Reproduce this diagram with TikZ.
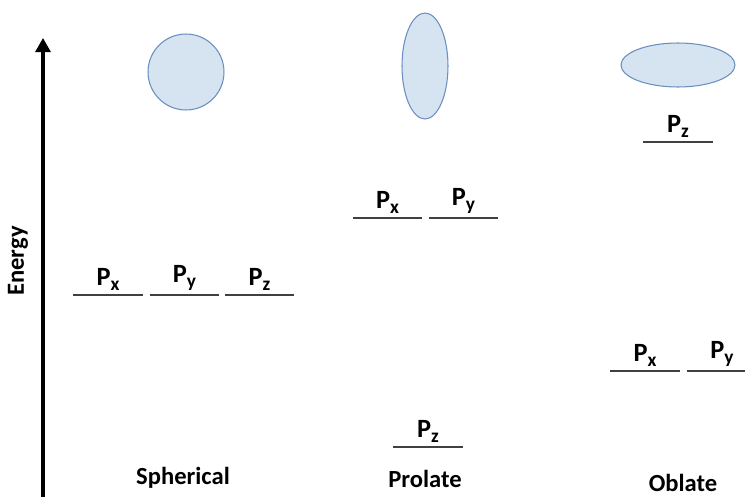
\documentclass[tikz,border=0pt]{standalone}
\usepackage{fontspec}
\setmainfont{Carlito}
\usetikzlibrary{arrows.meta, positioning, shapes.geometric}
\definecolor{shapefill}{HTML}{D6E4F2}
\definecolor{shapeline}{HTML}{6A8FBE}
\definecolor{levelgrey}{HTML}{404040}
\newcommand{\orb}[1]{P\raisebox{-3pt}{\fontsize{11}{11}\selectfont #1}}
\tikzset{
  nucleus/.style={ellipse, draw=shapeline, fill=shapefill, line width=0.6pt, inner sep=0pt},
  level/.style={draw=levelgrey, line width=1pt},
  orblabel/.style={font=\fontsize{15}{15}\selectfont\bfseries, text=black, above=1pt, inner sep=1pt},
  caption/.style={font=\fontsize{14}{14}\selectfont\bfseries},
  axis/.style={-{Triangle[length=8pt, width=8.5pt]}, line width=1.8pt, black},
}
\begin{document}
\begin{tikzpicture}[x=0.02cm, y=-0.02cm]
\useasboundingbox (0,0) rectangle (745,497);
% energy axis
\coordinate (axbot) at (43,497);
\coordinate (axtop) at (43,38);
\draw[axis] (axbot) -- (axtop);
\node[rotate=90, font=\fontsize{14}{14}\selectfont\bfseries] (energy) at (18,261) {Energy};
% shapes
\node[nucleus, circle, minimum size=1.52cm] (sph) at (186,72) {};
\node[nucleus, minimum width=0.92cm, minimum height=2.12cm] (pro) at (425,66) {};
\node[nucleus, minimum width=2.28cm, minimum height=0.88cm] (obl) at (678,65) {};
% spherical levels
\foreach \xa/\xb/\s in {73/143/x, 150/219/y, 225/294/z}
  \draw[level] (\xa,295) -- node[orblabel] {\orb{\s}} (\xb,295);
% prolate levels
\foreach \xa/\xb/\s in {353/422/x, 429/498/y}
  \draw[level] (\xa,218) -- node[orblabel] {\orb{\s}} (\xb,218);
\draw[level] (393,447) -- node[orblabel] {\orb{z}} (463,447);
% oblate levels
\draw[level] (643,142) -- node[orblabel] {\orb{z}} (713,142);
\foreach \xa/\xb/\s in {610/680/x, 687/757/y}
  \draw[level] (\xa,371) -- node[orblabel] {\orb{\s}} (\xb,371);
% captions
\node[caption] (capsph) at (183,478) {Spherical};
\node[caption] (cappro) at (425,479) {Prolate};
\node[caption] (capobl) at (683,483) {Oblate};
\end{tikzpicture}
\end{document}
